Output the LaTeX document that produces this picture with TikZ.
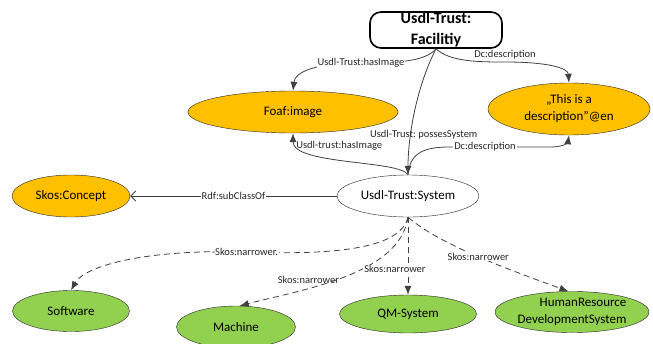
\documentclass[tikz,border=0pt]{standalone}
\usepackage{fontspec}
\setmainfont{Carlito}
\usetikzlibrary{arrows.meta, shapes.geometric, positioning}
\definecolor{gold}{HTML}{FFC000}
\definecolor{leaf}{HTML}{92D050}
\definecolor{edge}{HTML}{404040}

\begin{document}
\begin{tikzpicture}[x=1pt,y=-1pt,>={Latex[length=9pt,width=7pt]},
        cls/.style={draw=black!85, ellipse, inner sep=0, fill=gold,
            font=\fontsize{13}{17}\selectfont, align=center},
        sub/.style={cls, fill=leaf},
        lbl/.style={font=\fontsize{10.5}{12}\selectfont, inner sep=1pt, text=black!85},
        rel/.style={edge, line width=0.8pt},
        nar/.style={rel, dash pattern=on 6pt off 4pt}]
    \useasboundingbox (0,0) rectangle (653,343);
    \node(fac)[draw, line width=1.6pt, rounded corners=11pt, minimum width=132pt,
        minimum height=36pt, inner sep=0, align=center,
        font=\bfseries\fontsize{16}{21}\selectfont] at (436,30) {Usdl-Trust:\\Facilitiy};
    \node(foaf)[cls, minimum width=210pt, minimum height=42pt] at (293,112) {Foaf:image};
    \node(desc)[cls, minimum width=162pt, minimum height=52pt] at (569,109)
        {„This is a\\description”@en};
    \node(sys)[cls, fill=white, minimum width=142pt, minimum height=42pt] at (408,196)
        {Usdl-Trust:System};
    \node(con)[cls, minimum width=118pt, minimum height=42pt] at (71,196) {Skos:Concept};
    \node(soft)[sub, minimum width=117pt, minimum height=41pt] at (71,311) {Software};
    \node(mach)[sub, minimum width=119pt, minimum height=42pt] at (236,327) {Machine};
    \node(qm)[sub, minimum width=137pt, minimum height=38pt] at (408,314) {QM-System};
    \node(hr)[sub, minimum width=151pt, minimum height=41pt, align=right] at (572,312)
        {HumanResource\\DevelopmentSystem};

    % facility
    \draw[rel,->] (fac.south) .. controls (425,62) and (395,63) .. (361,63)
        node[lbl, fill=white] {Usdl-Trust:hasImage}
        .. controls (315,63) and (295,72) .. (foaf.north);
    \draw[rel,->] (fac.south) .. controls (450,62) and (480,62) .. (505,62)
        node[lbl, above=1pt] {Dc:description}
        .. controls (548,62) and (568,68) .. (desc.north);
    \draw[rel,->] (fac.south) .. controls (415,90) and (408,140) .. (sys.north)
        node[lbl, pos=0.66, right=-42pt] {Usdl-Trust:\ possesSystem};

    % system
    \draw[rel,->] (sys.north) .. controls (400,160) and (293,165) .. (foaf.south)
        node[lbl, pos=0.55, above=7pt] {Usdl-trust:hasImage};
    \draw[rel,->] (sys.north) .. controls (410,155) and (420,147) .. (450,147)
        -- node[lbl, fill=white, pos=0.35] {Dc:description} (550,147)
        .. controls (565,147) and (568,142) .. (desc.south);
    \draw[rel,-{Straight Barb[length=5pt,width=10pt]}] (sys.west) --
        node[lbl, fill=white] {Rdf:subClassOf} (con.east);

    % narrower
    \draw[nar,->] (sys.south) .. controls (400,250) and (330,255) .. (245,252)
        node[lbl, fill=white] {-Skos:narrower.}
        .. controls (150,249) and (85,265) .. (soft.north);
    \draw[nar,->] (sys.south) .. controls (400,275) and (300,290) .. (mach.80)
        node[lbl, pos=0.62, above=1pt, xshift=-10pt] {Skos:narrower};
    \draw[nar,->] (sys.south) -- node[lbl, fill=white, pos=0.67, xshift=-13pt] {Skos:narrower}
        (qm.north);
    \draw[nar,->] (sys.south) .. controls (440,245) and (510,270) .. (hr.100)
        node[lbl, fill=white, pos=0.5] {Skos:narrower};
\end{tikzpicture}
\end{document}
